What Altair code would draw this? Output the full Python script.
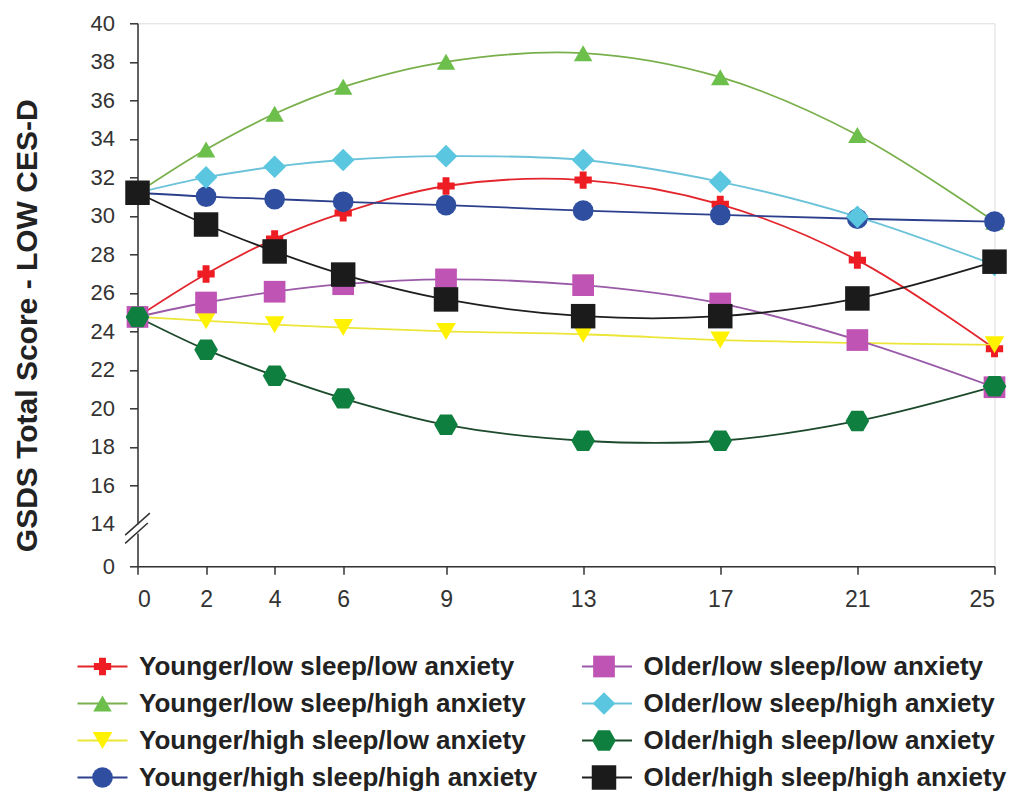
import altair as alt
import pandas as pd

FONT = "Liberation Sans"

weeks = [0, 2, 4, 6, 9, 13, 17, 21, 25]

names = [
    "Younger/low sleep/low anxiety",
    "Younger/low sleep/high anxiety",
    "Younger/high sleep/low anxiety",
    "Younger/high sleep/high anxiety",
    "Older/low sleep/low anxiety",
    "Older/low sleep/high anxiety",
    "Older/high sleep/low anxiety",
    "Older/high sleep/high anxiety",
]

y_ll = [24.75, 26.98, 28.80, 30.15, 31.55, 31.86, 30.60, 27.70, 23.10]
y_lh = [31.20, 33.45, 35.30, 36.70, 38.00, 38.45, 37.20, 34.20, 29.70]
y_hl = [24.75, 24.55, 24.35, 24.20, 24.00, 23.85, 23.55, 23.40, 23.30]
y_hh = [31.20, 31.00, 30.87, 30.73, 30.56, 30.27, 30.05, 29.85, 29.70]
o_ll = [24.75, 25.50, 26.06, 26.45, 26.70, 26.40, 25.45, 23.55, 21.10]
o_lh = [31.20, 32.00, 32.55, 32.90, 33.10, 32.90, 31.77, 29.95, 27.45]
o_hl = [24.75, 23.05, 21.70, 20.52, 19.15, 18.32, 18.32, 19.35, 21.15]
o_hh = [31.20, 29.55, 28.15, 26.95, 25.66, 24.79, 24.79, 25.71, 27.62]
values = [y_ll, y_lh, y_hl, y_hh, o_ll, o_lh, o_hl, o_hh]

# y axis ticks (the axis is broken between 0 and 14)
y_tick_values = [0, 14, 16, 18, 20, 22, 24, 26, 28, 30, 32, 34, 36, 38, 40]
break_pos = 11.8  # where "0" sits on the broken axis

line_colors = ["#e3262d", "#79b04c", "#ece53a", "#2c3f8c", "#9a5aa8", "#6cc3d9", "#1d4a2c", "#1e1e1e"]
fill_colors = ["#ee1d23", "#6cbf4a", "#fff200", "#2f4ea0", "#c054b5", "#5bc6df", "#0f7f3f", "#1b1b1b"]
hexagon = "M-1,0L-0.5,-0.866L0.5,-0.866L1,0L0.5,0.866L-0.5,0.866Z"
shapes = ["cross", "triangle-up", "triangle-down", "circle", "square", "diamond", hexagon, "square"]
sizes = [300, 600, 560, 560, 400, 540, 520, 400]

SUFFIX = " "  # keeps the marker legend separate from the line legend
rows = []
for name, vals in zip(names, values):
    for w, v in zip(weeks, vals):
        rows.append({"series": name, "series2": name + SUFFIX, "week": w, "score": v})
df = pd.DataFrame(rows)
names2 = [n + SUFFIX for n in names]

break_lines = pd.DataFrame({
    "x": [-0.36, -0.36], "x2": [0.36, 0.30],
    "y": [13.42, 12.99], "y2": [14.56, 14.05],
})
break_gap = pd.DataFrame({"x": [-0.07], "x2": [0.07], "y": [13.5], "y2": [13.98]})

tick_positions = [break_pos if t == 0 else t for t in y_tick_values]

x_enc = alt.X(
    "week:Q",
    scale=alt.Scale(domain=[0, 25], nice=False, zero=False),
    axis=alt.Axis(
        values=weeks, tickCount=40, title=None, format="d", grid=False, labelOverlap=False,
        tickSize=8, labelPadding=14, labelFont=FONT, labelFontSize=23,
        labelColor="#333", domainColor="#333", tickColor="#333",
        domainWidth=1.5, tickWidth=1.5,
    ),
)
y_enc = alt.Y(
    "score:Q",
    scale=alt.Scale(domain=[break_pos, 40], nice=False, zero=False),
    axis=alt.Axis(
        values=tick_positions, tickCount=40, grid=False, labelOverlap=False,
        labelExpr="datum.value < 13 ? '0' : format(datum.value, 'd')",
        tickSize=8, labelPadding=15, labelFont=FONT, labelFontSize=22,
        labelColor="#333", domainColor="#333", tickColor="#333",
        domainWidth=1.5, tickWidth=1.5,
        tickOpacity={"expr": "datum.value == 14 ? 0 : 1"},
        title="GSDS Total Score - LOW CES-D", titleFont=FONT, titleFontSize=30,
        titleFontWeight="bold", titleColor="#222", titleX=-110, titleY=302,
        titleBaseline="middle",
    ),
)

LEG_X = -48
LEG_Y = 630.2
legend_common = dict(
    orient="none", legendX=LEG_X, legendY=LEG_Y, columns=2,
    rowPadding=11, labelFont=FONT, labelFontSize=26, labelFontWeight="bold",
    labelLimit=1000, labelOffset=23.5, title=None, padding=0,
)
line_legend = alt.Legend(
    symbolType="M-2.5,0L2.5,0", symbolSize=400, symbolStrokeWidth=1.8,
    labelColor="#222", columnPadding=40.5, **legend_common,
)
# marker legend drawn on top of the line legend; its labels are left empty
point_legend = alt.Legend(
    symbolStrokeWidth=0, labelExpr="''",
    columnPadding=451.5, **legend_common,
)

base = alt.Chart(df)

lines = base.mark_line(interpolate="catmull-rom", strokeWidth=1.8).encode(
    x=x_enc, y=y_enc,
    color=alt.Color("series:N", scale=alt.Scale(domain=names, range=line_colors), legend=line_legend),
)

points = base.mark_point(filled=True, opacity=1).encode(
    x=x_enc, y=y_enc,
    fill=alt.Fill("series2:N", scale=alt.Scale(domain=names2, range=fill_colors), legend=point_legend),
    shape=alt.Shape("series2:N", scale=alt.Scale(domain=names2, range=shapes), legend=point_legend),
    size=alt.Size("series2:N", scale=alt.Scale(domain=names2, range=sizes), legend=point_legend),
)

gap = alt.Chart(break_gap).mark_rect(color="white").encode(
    x="x:Q", x2="x2:Q", y="y:Q", y2="y2:Q"
)
slashes = alt.Chart(break_lines).mark_rule(color="#333", strokeWidth=1.5).encode(
    x="x:Q", x2="x2:Q", y="y:Q", y2="y2:Q"
)

chart = alt.layer(gap, slashes, lines, points).properties(
    width=857, height=543,
    autosize=alt.AutoSizeParams(type="none"),
    padding={"left": 129.5, "top": 15.3, "right": 12.5, "bottom": 225.7},
).configure_view(stroke=None).configure(background="white")

chart.save("out.html", embed_options={"renderer": "svg", "actions": False})
